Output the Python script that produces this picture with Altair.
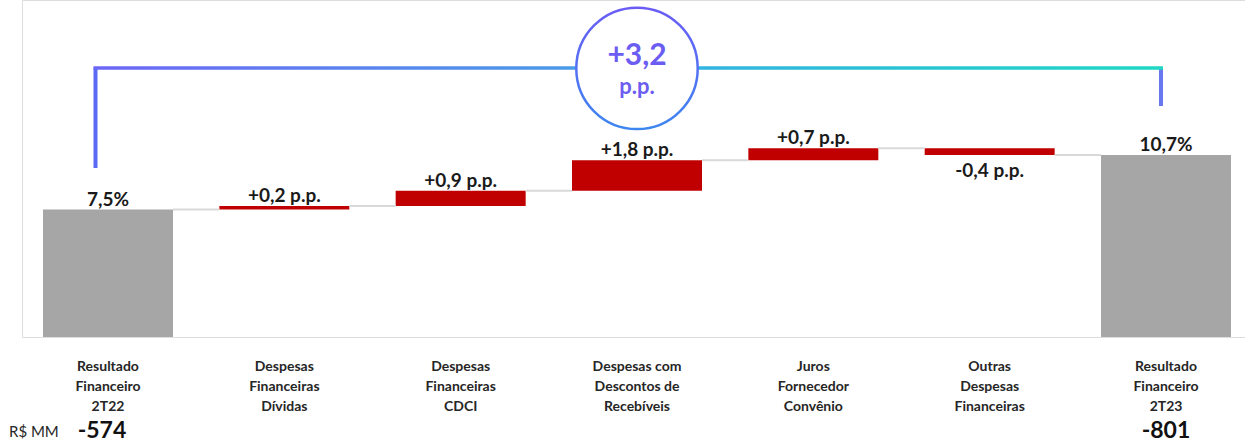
import altair as alt
import pandas as pd

# ---------------- data ----------------
categories = [
    "Resultado\nFinanceiro\n2T22",
    "Despesas\nFinanceiras\nDívidas",
    "Despesas\nFinanceiras\nCDCI",
    "Despesas com\nDescontos de\nRecebíveis",
    "Juros\nFornecedor\nConvênio",
    "Outras\nDespesas\nFinanceiras",
    "Resultado\nFinanceiro\n2T23",
]
kinds = ["total", "delta", "delta", "delta", "delta", "delta", "total"]
values = [7.5, 0.2, 0.9, 1.8, 0.7, -0.4, 10.7]
amount_positions = [0, 6]
amount_labels = ["-574", "-801"]
unit_label = "R$ MM"
bracket_level = 15.82
bracket_ends = [9.94, 13.59]

# ---------------- build tables ----------------
rows = []
running = 0.0
for i, (c, k, v) in enumerate(zip(categories, kinds, values)):
    if k == "total":
        start, end = 0.0, v
        label = f"{v:.1f}".replace(".", ",") + "%"
    else:
        start, end = running, running + v
        label = f"{v:+.1f}".replace(".", ",") + " p.p."
    running = end
    rows.append(dict(i=i, category=c, kind=k, value=v, start=start, end=end,
                     top=max(start, end), bottom=min(start, end), label=label,
                     i_next=i + 1))
df = pd.DataFrame(rows)
conn = df.iloc[:-1].copy()
df_amt = pd.DataFrame({"i": amount_positions, "amount": amount_labels})
total_change = values[-1] - values[0]
change_txt = f"{total_change:+.1f}".replace(".", ",")

FONT = "Lato"
x_scale = alt.Scale(domain=[-0.4877, 6.448], nice=False, zero=False, padding=0)
y_scale = alt.Scale(domain=[0, 19.824], nice=False, zero=False, padding=0)
X = alt.X("i:Q", scale=x_scale,
          axis=alt.Axis(labels=False, ticks=False, grid=False, title=None,
                        domainColor="#d9d9d9", domainWidth=2))
Xn = alt.X("i:Q", scale=x_scale, axis=None)

base = alt.Chart(df)

connectors = alt.Chart(conn).mark_rule(
    color="#d9d9d9", strokeWidth=2, xOffset=65, x2Offset=-65
).encode(x=Xn, x2="i_next:Q", y=alt.Y("end:Q", scale=y_scale, axis=None))

bars = base.mark_bar(width=130).encode(
    x=X, y=alt.Y("start:Q", scale=y_scale, axis=None), y2="end:Q",
    color=alt.Color("kind:N", scale=alt.Scale(domain=["total", "delta"],
                    range=["#a6a6a6", "#c00000"]), legend=None),
)

lab_pos = base.transform_filter("datum.value >= 0").mark_text(
    baseline="alphabetic", dy=-4, fontSize=19, fontWeight="bold", font=FONT,
    color="#1a1a1a"
).encode(x=Xn, y=alt.Y("top:Q", scale=y_scale, axis=None), text="label:N")

lab_neg = base.transform_filter("datum.value < 0").mark_text(
    baseline="alphabetic", dy=21.6, fontSize=19, fontWeight="bold", font=FONT,
    color="#1a1a1a"
).encode(x=Xn, y=alt.Y("bottom:Q", scale=y_scale, axis=None), text="label:N")

cat_labels = base.mark_text(
    lineBreak="\n", fontSize=14, fontWeight="bold", font=FONT,
    baseline="alphabetic", lineHeight=20, color="#262626"
).encode(x=Xn, y=alt.value(371), text="category:N")

amt_left = alt.Chart(df_amt).transform_filter("datum.i == 0").mark_text(
    fontSize=23, fontWeight="bold", font=FONT, baseline="alphabetic",
    color="#111111", dx=-6
).encode(x=Xn, y=alt.value(438), text="amount:N")
amt_right = alt.Chart(df_amt).transform_filter("datum.i != 0").mark_text(
    fontSize=23, fontWeight="bold", font=FONT, baseline="alphabetic",
    color="#111111"
).encode(x=Xn, y=alt.value(438), text="amount:N")

unit = alt.Chart(pd.DataFrame({"t": [unit_label]})).mark_text(
    align="left", fontSize=15, font=FONT, baseline="alphabetic", color="#262626"
).encode(x=alt.value(-13), y=alt.value(437), text="t:N")

# bracket
one = pd.DataFrame({"a": [0]})
left_v = alt.Chart(one).mark_rule(
    color="#5a6af5", strokeWidth=4, xOffset=-12.5
).encode(x=alt.datum(0), y=alt.datum(bracket_level), y2=alt.datum(bracket_ends[0]))
right_v = alt.Chart(one).mark_rule(
    color="#6a78f0", strokeWidth=4, xOffset=-5
).encode(x=alt.datum(6), y=alt.datum(bracket_level), y2=alt.datum(bracket_ends[1]))

hgrad = alt.Gradient(
    gradient="linear",
    stops=[alt.GradientStop(color="#6d66f5", offset=0),
           alt.GradientStop(color="#4a9be8", offset=0.45),
           alt.GradientStop(color="#33b2e2", offset=0.55),
           alt.GradientStop(color="#1ed8c4", offset=1)],
    x1=0, x2=1, y1=0, y2=0)
horiz = alt.Chart(one).mark_rect(
    color=hgrad, yOffset=-1.75, y2Offset=1.75, xOffset=-14.5, x2Offset=-3
).encode(x=alt.datum(0), x2=alt.datum(6), y=alt.datum(bracket_level),
         y2=alt.datum(bracket_level))

cgrad = alt.Gradient(
    gradient="linear",
    stops=[alt.GradientStop(color="#6a5cf5", offset=0),
           alt.GradientStop(color="#3d86f0", offset=1)],
    x1=0, x2=0, y1=0, y2=1)
circle = alt.Chart(one).mark_point(
    shape="circle", size=14740, filled=True, fill="white", fillOpacity=1,
    stroke=cgrad, strokeWidth=2.5, strokeOpacity=1, opacity=1
).encode(x=alt.datum(3), y=alt.datum(bracket_level - 0.02))

ctext1 = alt.Chart(pd.DataFrame({"t": [change_txt]})).mark_text(
    fontSize=30, fontWeight="bold", font=FONT, color="#6b5cf2",
    baseline="alphabetic", dy=-2.6
).encode(x=alt.datum(3), y=alt.datum(bracket_level), text="t:N")
ctext2 = alt.Chart(pd.DataFrame({"t": ["p.p."]})).mark_text(
    fontSize=22, fontWeight="bold", font=FONT, color="#6b5cf2",
    baseline="alphabetic", dy=26.4
).encode(x=alt.datum(3), y=alt.datum(bracket_level), text="t:N")

chart = alt.layer(
    bars, connectors, lab_pos, lab_neg, cat_labels, amt_left, amt_right, unit,
    left_v, right_v, horiz, circle, ctext1, ctext2
).properties(
    width=1223, height=337,
    padding={"left": 22, "right": 0, "top": 0, "bottom": 106},
    autosize="none",
).configure_view(stroke=None).configure(background="white")

chart.save("out.html", embed_options={"renderer": "svg", "actions": False})
